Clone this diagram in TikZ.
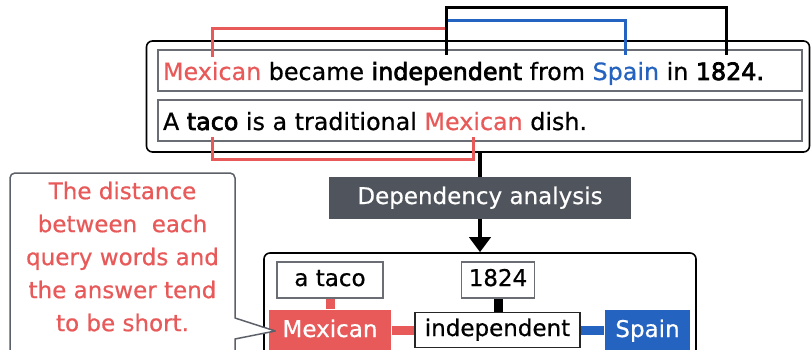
\documentclass[tikz,border=0pt]{standalone}
\usepackage{fontspec}
\setmainfont{DejaVu Sans}[FakeBold=0.6]
\newfontface\rgw{DejaVu Sans}[FakeBold=0.6]
\newfontface\bfw{DejaVu Sans}[FakeBold=3]
\usetikzlibrary{arrows.meta}
\definecolor{myred}{HTML}{E85A5A}
\definecolor{myblue}{HTML}{2463BF}
\definecolor{mygray}{HTML}{50545C}
\definecolor{edgegray}{HTML}{6A6D74}
\definecolor{calloutgray}{HTML}{5C6068}
\newcommand{\fsz}{\rgw\fontsize{23}{33}\selectfont}
\newcommand{\fsw}{\rgw\fontsize{23.8}{33}\selectfont}
\newcommand{\sps}{\ \mbox{}}
\begin{document}
\begin{tikzpicture}[x=1pt,y=-1pt,
  wd/.style={inner sep=0pt, outer sep=0pt, anchor=base west, font=\fsw},
  lnk/.style={line width=3pt},
  grpbox/.style={draw=black, line width=1.6pt, rounded corners=6pt, inner sep=0pt},
  sentbox/.style={draw=edgegray, line width=1.6pt, minimum width=644pt, minimum height=41pt, inner sep=0pt},
  wordbox/.style={draw=edgegray, line width=1.5pt, font=\fsz, text height=17pt, text depth=5pt, inner sep=0pt, minimum height=36pt},
  thicklink/.style={line width=9pt}]
\useasboundingbox (0,0) rectangle (811,350);
\clip (0,0) rectangle (811,350);

% upper group
\node[grpbox, minimum width=663pt, minimum height=111pt] (grp) at (478,96.5) {};
\node[sentbox] (box1) at (480,70.5) {};
\node[sentbox] (box2) at (480,120.5) {};

% sentence 1
\node[wd, text=myred] (s1a) at (163,80) {Mexican};
\node[wd] (s1b) at (s1a.base east) {\ became\sps};
\node[wd] (s1c) at (s1b.base east) {\bfw independent};
\node[wd] (s1d) at (s1c.base east) {\ from\sps};
\node[wd, text=myblue] (s1e) at (s1d.base east) {Spain};
\node[wd] (s1f) at (s1e.base east) {\ in\sps};
\node[wd] (s1g) at (s1f.base east) {\bfw 1824};
\node[wd] (s1h) at (s1g.base east) {\bfw .};

% sentence 2
\node[wd] (s2a) at (163,130) {A\sps};
\node[wd] (s2b) at (s2a.base east) {\bfw taco};
\node[wd] (s2c) at (s2b.base east) {\ is a traditional\sps};
\node[wd, text=myred] (s2d) at (s2c.base east) {Mexican};
\node[wd] (s2e) at (s2d.base east) {\ dish.};

% dependency brackets
\draw[lnk, myred] (s1a.north |- 0,57) |- (s1c.north |- 0,29);
\draw[lnk, myblue] (s1c.north |- 0,21) -| (s1e.north |- 0,55);
\draw[lnk, black] (s1c.north |- 0,55) -- (s1c.north |- 0,8) -| (s1g.north |- 0,55);
\draw[lnk, myred] (s2b.south |- 0,137) -- (s2b.south |- 0,159) -| (s2d.south |- 0,137);

% dependency analysis
\node[fill=mygray, text=white, font=\fsz, minimum width=302pt, minimum height=42pt, inner sep=0pt, text height=17pt, text depth=5pt] (dep) at (480,198) {Dependency analysis};
\node[grpbox, minimum width=432pt, minimum height=112pt] (low) at (480,309) {};
\draw[line width=4pt] (dep.north |- grp.south) -- (dep.north);
\draw[line width=4pt, -{Triangle[length=15pt,width=21pt]}] (dep.south) -- (dep.south |- low.north);

% lower tree
\node[wordbox, minimum width=106pt] (taco) at (330,280) {a taco};
\node[wordbox, minimum width=73pt] (yr) at (498,280) {1824};
\node[wordbox, draw=black!85, minimum width=165pt, minimum height=35pt] (indep) at (497.5,330) {independent};
\node[wordbox, draw=none, fill=myred, text=white, minimum width=122pt, minimum height=42pt] (mexb) at (330,331) {Mexican};
\node[wordbox, draw=none, fill=myblue, text=white, minimum width=85pt, minimum height=42pt] (spain) at (647.5,331) {Spain};

\draw[thicklink, myred] (taco.south) -- (mexb.north);
\draw[thicklink, black] (yr.south) -- (yr.south |- indep.north);
\draw[thicklink, myred] (mexb.east |- indep.west) -- (indep.west);
\draw[thicklink, myblue] (indep.east) -- (spain.west |- indep.east);

% callout
\coordinate (tip) at ([xshift=7pt]mexb.west);
\filldraw[fill=white, draw=calloutgray, line width=1.5pt, line join=round] (235,339) -- (tip) -- (235,318) [rounded corners=5pt] -- (235,173) -- (10,173) -- (10,365) -- (235,365) [sharp corners] -- cycle;
\node[font=\fsz, text=myred, align=center, inner sep=0pt, anchor=north] (note) at (122.5,181.5) {The distance\\between\ \ each\\query words and\\the answer tend\\to be short.};
\end{tikzpicture}
\end{document}
